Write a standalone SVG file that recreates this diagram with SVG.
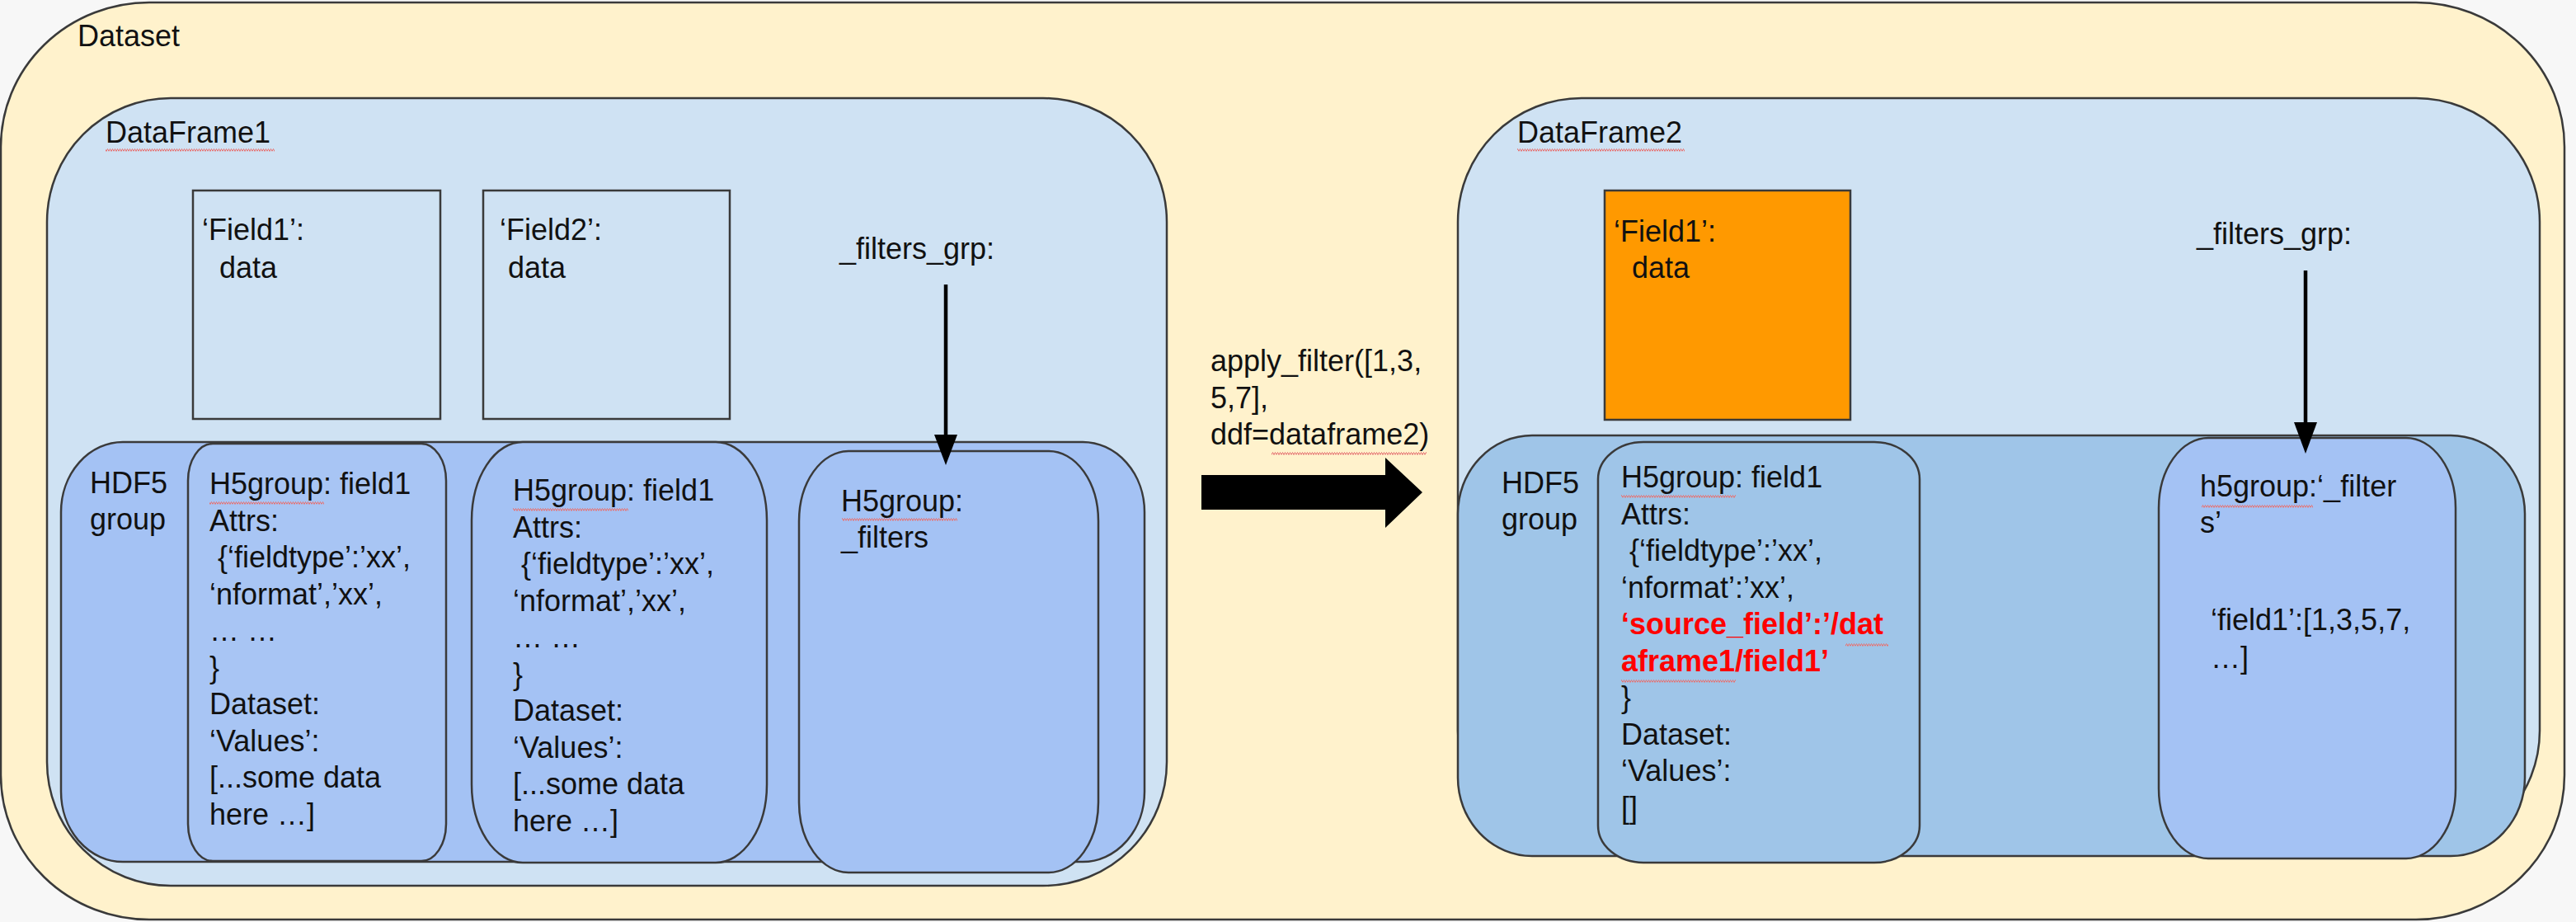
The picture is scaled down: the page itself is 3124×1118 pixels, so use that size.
<svg xmlns="http://www.w3.org/2000/svg" width="3124" height="1118" viewBox="0 0 3124 1118">
<defs>
<style>
text{font-family:"Liberation Sans",Arial,sans-serif;font-size:36px;fill:#111}
.red{fill:#ff0000;font-weight:bold}
.ol{stroke:#3a3a3a;stroke-width:2.5}
.sq{fill:url(#squig)}
.conn{stroke:#000;stroke-width:4.5;fill:none}
</style>
<pattern id="squig" width="6" height="4" patternUnits="userSpaceOnUse">
<path d="M0 3.5 L1.5 0.5 L3 3.5 L4.5 0.5 L6 3.5" fill="none" stroke="#e57373" stroke-width="1"/>
</pattern>
</defs>
<rect width="3124" height="1118" fill="#f7f7f7"/>
<g id="dataset">
<rect class="ol" x="1" y="3" width="3109" height="1112" rx="180" ry="175" fill="#fff2cc"/>
<text x="94" y="56">Dataset</text>
</g>
<g id="dataframe1">
<rect class="ol" x="57" y="119" width="1358" height="955" rx="150" ry="150" fill="#cfe2f3"/>
<text x="128" y="173">DataFrame1</text>
<rect class="sq" x="128" y="180" width="205" height="4"/>
</g>
<g id="field1">
<rect class="ol" x="234" y="231" width="300" height="277" fill="#cfe2f3"/>
<text x="245" y="291">‘Field1’:</text>
<text x="266" y="337">data</text>
</g>
<g id="field2">
<rect class="ol" x="586" y="231" width="299" height="277" fill="#cfe2f3"/>
<text x="606" y="291">‘Field2’:</text>
<text x="616" y="337">data</text>
</g>
<g id="filters_grp1">
<text x="1018" y="314">_filters_grp:</text>
</g>
<g id="hdf5group1">
<rect class="ol" x="74" y="536" width="1314" height="509" rx="75" ry="85" fill="#a4c2f4"/>
<text x="109" y="598">HDF5</text>
<text x="109" y="642">group</text>
</g>
<g id="h5field1_df1">
<rect class="ol" x="228" y="538" width="313" height="506" rx="30" ry="45" fill="#a8c5f4"/>
<text x="254" y="599">H5group: field1</text>
<rect class="sq" x="254" y="608" width="139" height="4"/>
<text x="254" y="643.5">Attrs:</text>
<text x="264" y="688">{‘fieldtype’:’xx’,</text>
<text x="254" y="732.5">‘nformat’,’xx’,</text>
<text x="254" y="777">… …</text>
<text x="254" y="821.5">}</text>
<text x="254" y="866">Dataset:</text>
<text x="254" y="910.5">‘Values’:</text>
<text x="254" y="955">[...some data</text>
<text x="254" y="999.5">here …]</text>
</g>
<g id="h5field2_df1">
<rect class="ol" x="572" y="536" width="358" height="510" rx="62" ry="95" fill="#a4c2f4"/>
<text x="622" y="607">H5group: field1</text>
<rect class="sq" x="622" y="616" width="140" height="4"/>
<text x="622" y="651.5">Attrs:</text>
<text x="632" y="696">{‘fieldtype’:’xx’,</text>
<text x="622" y="740.5">‘nformat’,’xx’,</text>
<text x="622" y="785">… …</text>
<text x="622" y="829.5">}</text>
<text x="622" y="874">Dataset:</text>
<text x="622" y="918.5">‘Values’:</text>
<text x="622" y="963">[...some data</text>
<text x="622" y="1007.5">here …]</text>
</g>
<g id="h5filters_df1">
<rect class="ol" x="969" y="547" width="363" height="511" rx="60" ry="85" fill="#a4c2f4"/>
<text x="1020" y="620">H5group:</text>
<rect class="sq" x="1021" y="628" width="140" height="4"/>
<text x="1020" y="664">_filters</text>
</g>
<g id="apply_filter">
<text x="1468" y="450">apply_filter([1,3,</text>
<text x="1468" y="495">5,7],</text>
<text x="1468" y="539">ddf=dataframe2)</text>
<rect class="sq" x="1542" y="548" width="188" height="4"/>
<polygon points="1457,576 1680,576 1680,555 1725,597 1680,640 1680,618 1457,618" fill="#000"/>
</g>
<g id="dataframe2">
<rect class="ol" x="1768" y="119" width="1312" height="917" rx="150" ry="150" fill="#cfe2f3"/>
<text x="1840" y="173">DataFrame2</text>
<rect class="sq" x="1840" y="180" width="203" height="4"/>
</g>
<g id="field1_df2">
<rect class="ol" x="1946" y="231" width="298" height="278" fill="#ff9900"/>
<text x="1957" y="293">‘Field1’:</text>
<text x="1979" y="337">data</text>
</g>
<g id="filters_grp2">
<text x="2664" y="296">_filters_grp:</text>
</g>
<g id="hdf5group2">
<rect class="ol" x="1768" y="528" width="1294" height="510" rx="90" ry="95" fill="#9fc5e8"/>
<text x="1821" y="598">HDF5</text>
<text x="1821" y="642">group</text>
</g>
<g id="h5field1_df2">
<rect class="ol" x="1938" y="536" width="390" height="510" rx="55" ry="45" fill="#9fc5e8"/>
<text x="1966" y="591">H5group: field1</text>
<rect class="sq" x="1966" y="600" width="139" height="4"/>
<text x="1966" y="635.5">Attrs:</text>
<text x="1976" y="680">{‘fieldtype’:’xx’,</text>
<text x="1966" y="724.5">‘nformat’:’xx’,</text>
<text class="red" x="1966" y="769">‘source_field’:’/dat</text>
<rect class="sq" x="2238" y="780" width="52" height="4"/>
<text class="red" x="1966" y="813.5">aframe1/field1’</text>
<rect class="sq" x="1966" y="824" width="139" height="4"/>
<text x="1966" y="858">}</text>
<text x="1966" y="902.5">Dataset:</text>
<text x="1966" y="947">‘Values’:</text>
<text x="1966" y="991.5">[]</text>
</g>
<g id="h5filters_df2">
<rect class="ol" x="2618" y="531" width="360" height="510" rx="60" ry="85" fill="#a4c2f4"/>
<text x="2668" y="602">h5group:‘_filter</text>
<rect class="sq" x="2670" y="612" width="135" height="4"/>
<text x="2668" y="646">s’</text>
<text x="2681" y="764">‘field1’:[1,3,5,7,</text>
<text x="2681" y="810">…]</text>
</g>
<g id="connectors">
<line class="conn" x1="1147" y1="345" x2="1147" y2="530"/>
<path d="M1133 527 L1161 527 L1147 564 Z" fill="#000"/>
<line class="conn" x1="2796" y1="328" x2="2796" y2="515"/>
<path d="M2782 512 L2810 512 L2796 550 Z" fill="#000"/>
</g>
</svg>
